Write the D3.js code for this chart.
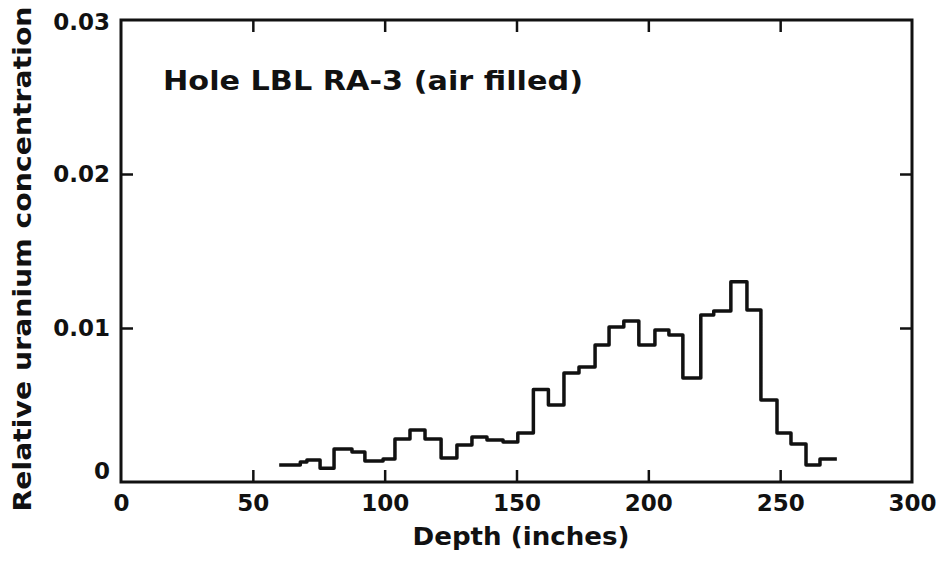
<!DOCTYPE html>
<html>
<head>
<meta charset="utf-8">
<script src="https://cdn.jsdelivr.net/npm/d3@7"></script>
<style>
  body { margin: 0; background: #fff; }
  text { font-family: "DejaVu Sans", sans-serif; font-weight: bold; fill: #111; }
</style>
</head>
<body>
<svg id="chart"></svg>
<script>
// bin edges (inches) and relative uranium concentration per bin
const depthEdges = [60, 68, 70.5, 75.5, 80.8, 87.6, 92.5, 99.4, 103.9, 109.6,
  115.3, 121.4, 127.4, 133.1, 138.8, 144.9, 150.5, 156.4, 162.1, 168,
  173.7, 179.8, 185.1, 190.7, 196.4, 202.5, 207.8, 213.1, 219.9, 224.8,
  231.3, 237.4, 242.7, 248.8, 254.1, 259.8, 265.1, 271.5];
const concentration = [0.0011, 0.0013, 0.00143, 0.0009, 0.00214, 0.00195, 0.00136, 0.0015, 0.00279, 0.00338,
  0.00279, 0.00156, 0.0024, 0.00292, 0.00273, 0.0026, 0.00318, 0.006, 0.005, 0.00708,
  0.00747, 0.0089, 0.01006, 0.01045, 0.0089, 0.00987, 0.00955, 0.00675, 0.01084, 0.0111,
  0.013, 0.01117, 0.00532, 0.00318, 0.00247, 0.0011, 0.0015];
const xTicks = [0, 50, 100, 150, 200, 250, 300];
const yTicks = [0, 0.01, 0.02, 0.03];
const yTickLabels = ["0", "0.01", "0.02", "0.03"];

const dimensions = {
  width: 941,
  height: 563,
  margin: { top: 20, right: 29, bottom: 81, left: 121 }
};
const w = dimensions.width - dimensions.margin.left - dimensions.margin.right;
const h = dimensions.height - dimensions.margin.top - dimensions.margin.bottom;

const svg = d3.select("#chart")
  .attr("width", dimensions.width)
  .attr("height", dimensions.height);

const g = svg.append("g")
  .attr("transform", `translate(${dimensions.margin.left},${dimensions.margin.top})`);

const xScale = d3.scaleLinear().domain([0, 300]).range([0, w]);
const yScale = d3.scaleLinear().domain([0, 0.03]).range([h, 0]);

// axes with inward ticks
const axisBottomG = g.append("g")
  .attr("transform", `translate(0,${h})`)
  .call(d3.axisBottom(xScale).tickValues(xTicks).tickSize(-12).tickPadding(13).tickFormat(d3.format("d")));
const axisTopG = g.append("g")
  .call(d3.axisTop(xScale).tickValues(xTicks.slice(1, -1)).tickSize(-12).tickFormat(""));
const axisLeftG = g.append("g")
  .call(d3.axisLeft(yScale).tickValues(yTicks).tickSize(-12).tickPadding(11)
    .tickFormat((d, i) => yTickLabels[i]));
const axisRightG = g.append("g")
  .attr("transform", `translate(${w},0)`)
  .call(d3.axisRight(yScale).tickValues(yTicks.slice(1, -1)).tickSize(-12).tickFormat(""));

[axisBottomG, axisTopG, axisLeftG, axisRightG].forEach(a => {
  a.select(".domain").remove();
  a.selectAll(".tick line").attr("stroke", "#111").attr("stroke-width", 2.5);
  a.selectAll("text").attr("font-size", 23).attr("font-family", "DejaVu Sans").attr("font-weight", "bold").attr("fill", "#111");
});
axisLeftG.selectAll(".tick line").filter(d => d === 0 || d === 0.03).remove();
axisBottomG.selectAll(".tick line").filter(d => d === 0 || d === 300).remove();
axisLeftG.selectAll(".tick text").filter(d => d === 0).attr("dy", "-0.15em");
axisLeftG.selectAll(".tick text").filter(d => d === 0.03).attr("dy", "0.4em");

// frame
g.append("rect")
  .attr("x", 0).attr("y", 0).attr("width", w).attr("height", h)
  .attr("fill", "none").attr("stroke", "#111").attr("stroke-width", 3);

// step histogram line
const pts = [];
concentration.forEach((v, i) => {
  pts.push([depthEdges[i], v]);
  pts.push([depthEdges[i + 1], v]);
});
g.append("path")
  .datum(pts)
  .attr("d", d3.line().x(d => xScale(d[0])).y(d => yScale(d[1])))
  .attr("fill", "none")
  .attr("stroke", "#111")
  .attr("stroke-width", 3.5)
  .attr("stroke-linejoin", "round");

// title and axis labels
g.append("text")
  .attr("x", 42).attr("y", 70)
  .attr("font-size", 26)
  .attr("textLength", 420).attr("lengthAdjust", "spacingAndGlyphs")
  .text("Hole LBL RA-3 (air filled)");

svg.append("text")
  .attr("x", 521).attr("y", 545)
  .attr("text-anchor", "middle")
  .attr("font-size", 25)
  .attr("textLength", 217).attr("lengthAdjust", "spacingAndGlyphs")
  .text("Depth (inches)");

svg.append("text")
  .attr("transform", "translate(31,259) rotate(-90)")
  .attr("text-anchor", "middle")
  .attr("font-size", 25)
  .attr("textLength", 505).attr("lengthAdjust", "spacingAndGlyphs")
  .text("Relative uranium concentration");
</script>
</body>
</html>
